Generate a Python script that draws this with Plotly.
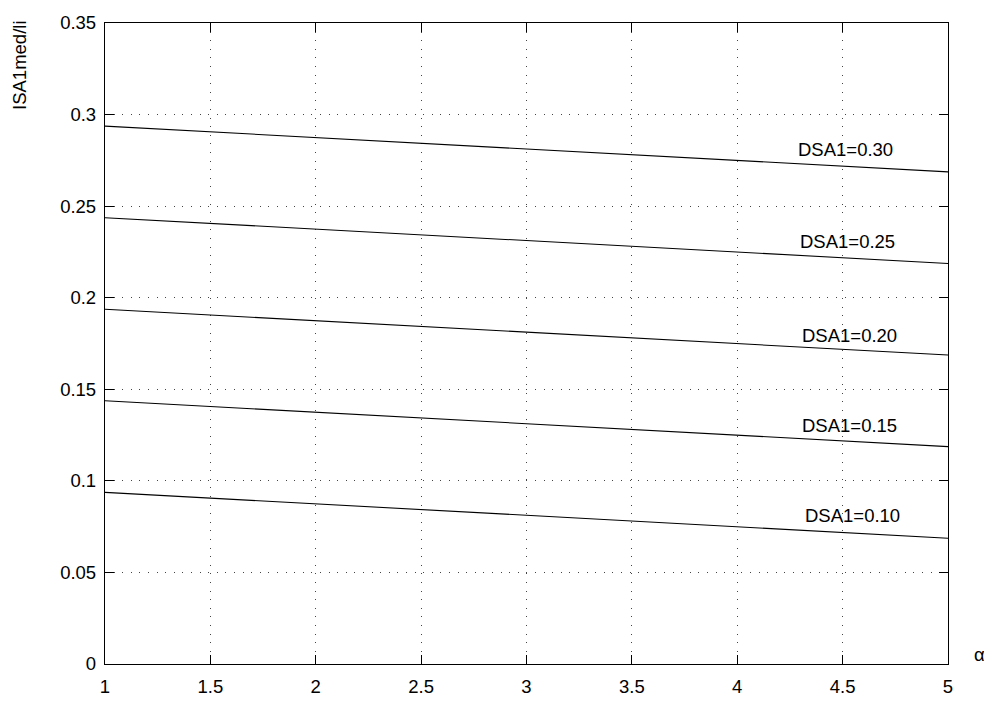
import plotly.graph_objects as go

# Data
alpha = [1, 5]
dsa_labels = ["DSA1=0.30", "DSA1=0.25", "DSA1=0.20", "DSA1=0.15", "DSA1=0.10"]
isa_series = [
    [0.2937, 0.2687],
    [0.2437, 0.2187],
    [0.1937, 0.1687],
    [0.1437, 0.1187],
    [0.0937, 0.0687],
]
label_x = [4.277, 4.286, 4.297, 4.297, 4.313]
label_y = [0.2811, 0.2306, 0.1795, 0.1305, 0.0809]

x_ticks = [1, 1.5, 2, 2.5, 3, 3.5, 4, 4.5, 5]
x_ticktext = ["1", "1.5", "2", "2.5", "3", "3.5", "4", "4.5", "5"]
y_ticks = [0, 0.05, 0.1, 0.15, 0.2, 0.25, 0.3, 0.35]
y_ticktext = ["0", "0.05", "0.1", "0.15", "0.2", "0.25", "0.3", "0.35"]

FONT = "Liberation Sans, Arial, Helvetica, sans-serif"
FS = 18.5

fig = go.Figure()
for vals in isa_series:
    fig.add_trace(go.Scatter(x=alpha, y=vals, mode="lines",
                             line=dict(color="black", width=1.1),
                             showlegend=False, hoverinfo="skip"))

for lx, ly, txt in zip(label_x, label_y, dsa_labels):
    fig.add_annotation(x=lx, y=ly, text=txt, showarrow=False,
                       xanchor="left", yanchor="middle",
                       font=dict(family=FONT, size=FS, color="black"))

fig.add_annotation(xref="paper", yref="paper", x=1.0, y=0.0, xshift=31,
                   yshift=-2, text="α", borderpad=0,
                   showarrow=False, xanchor="center", yanchor="bottom",
                   font=dict(family=FONT, size=FS, color="black"))
fig.add_annotation(xref="paper", yref="paper", x=0.0, xshift=-85,
                   y=0.933,
                   text="ISA1med/li", textangle=-90, showarrow=False,
                   xanchor="center", yanchor="middle",
                   font=dict(family=FONT, size=FS, color="black"))

axis_common = dict(
    showline=True, linecolor="black", linewidth=1.3, mirror="ticks",
    ticks="inside", ticklen=9, tickwidth=1, tickcolor="black",
    showgrid=True, gridcolor="#444", gridwidth=1, griddash="1px,7.6px",
    zeroline=False,
    tickfont=dict(family=FONT, size=FS, color="black"),
)

fig.update_xaxes(range=[1, 5], tickvals=x_ticks, ticktext=x_ticktext,
                 ticklabelstandoff=6, **axis_common)
fig.update_yaxes(range=[0, 0.35], tickvals=y_ticks, ticktext=y_ticktext,
                 ticklabelstandoff=4, **axis_common)

fig.update_layout(
    width=984, height=709,
    margin=dict(l=105, r=36, t=14, b=29),
    plot_bgcolor="white", paper_bgcolor="white",
    font=dict(family=FONT, color="black"),
)

fig.write_html(
    "out.html",
    config={"displayModeBar": False},
    post_script="document.body.style.margin='0';document.body.style.overflow='hidden';",
)
